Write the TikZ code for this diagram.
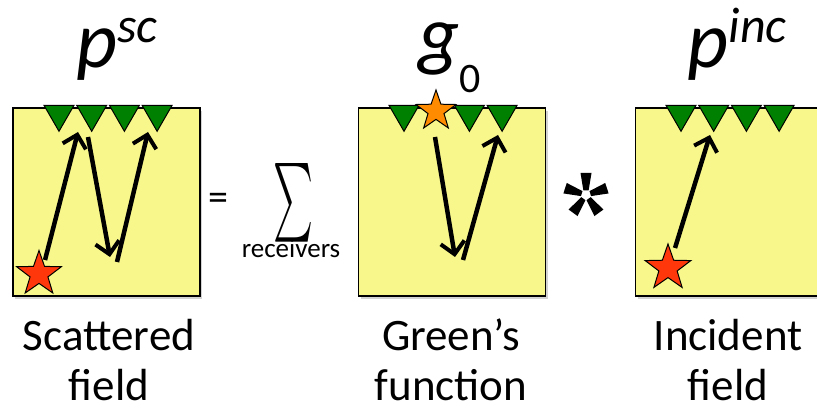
\documentclass[tikz,border=0pt]{standalone}
\usepackage{fontspec}
\setmainfont{Carlito}
\usepackage{amsmath}
\usepackage{graphicx}
\usetikzlibrary{shapes.geometric,arrows.meta,shadows}

\definecolor{panelyellow}{RGB}{247,247,140}
\definecolor{rxgreen}{RGB}{0,128,0}
\definecolor{srcred}{RGB}{255,55,10}
\definecolor{srcorange}{RGB}{255,140,0}

\tikzset{
    panel/.style={draw=black, line width=1.5pt, fill=panelyellow,
      minimum width=187pt, minimum height=188pt, inner sep=0pt,
      drop shadow={shadow xshift=2pt, shadow yshift=-3pt, opacity=0.35}},
    receiver/.style={regular polygon, regular polygon sides=3,
      shape border rotate=180, draw=black, line width=1pt, fill=rxgreen,
      minimum size=34.6pt, inner sep=0pt},
    source/.style={star, star points=5, star point ratio=2.5, draw=black,
      line width=1pt, minimum size=#1, inner sep=0pt},
    ray/.style={line width=4.5pt,
      -{Straight Barb[length=12pt,width=24pt,line width=4pt]}},
    caption/.style={font=\fontsize{45}{50}\selectfont, align=center, anchor=base,
      inner sep=0pt, text depth=0pt},
    mathlabel/.style={font=\fontsize{80}{80}\selectfont\itshape, inner sep=0pt, anchor=base}
}

\begin{document}
\begin{tikzpicture}[x=1pt,y=-1pt]
    \useasboundingbox (0,0) rectangle (817,411);

    % the three panels
    \node[panel] (scat) at (106.5,202) {};
    \node[panel] (green) at (452,202) {};
    \node[panel] (inc) at (729,202) {};

    % receivers on the surface
    \foreach \k in {0,...,3} {
        \node[receiver] (rs\k) at (13+46+32.7*\k,114) {};
        \node[receiver] (ri\k) at (635+46+32.7*\k,114) {};
    }
    \foreach \k in {0,2,3}
        \node[receiver] (rg\k) at (358+46+32.7*\k,114) {};

    % sources
    \node[source=47pt, fill=srcred] (srcscat) at (39,274) {};
    \node[source=48pt, fill=srcred] (srcinc) at (668,268) {};
    \node[source=42pt, fill=srcorange] (srcgreen) at (436,111) {};

    % ray end points
    \coordinate (s1a) at (45,260);  \coordinate (s1b) at (78,132);
    \coordinate (s2a) at (88,137);  \coordinate (s2b) at (110,257);
    \coordinate (s3a) at (117,262); \coordinate (s3b) at (148,132);
    \coordinate (g1a) at (435,137); \coordinate (g1b) at (455,257);
    \coordinate (g2a) at (463,260); \coordinate (g2b) at (498,135);
    \coordinate (i1a) at (675,248); \coordinate (i1b) at (710,135);

    \draw[ray] (s1a) -- (s1b);
    \draw[ray] (s2a) -- (s2b);
    \draw[ray] (s3a) -- (s3b);
    \draw[ray] (g1a) -- (g1b);
    \draw[ray] (g2a) -- (g2b);
    \draw[ray] (i1a) -- (i1b);

    % field labels
    \node[mathlabel] (lblscat) at (117,68)
      {p\raisebox{25pt}{\fontsize{50}{50}\selectfont sc}};
    \node[mathlabel] (lblgreen) at (450,62)
      {g\raisebox{-31pt}{\upshape\fontsize{42}{42}\selectfont 0}};
    \node[mathlabel] (lblinc) at (737,68)
      {p\raisebox{25pt}{\fontsize{50}{50}\selectfont inc}};

    % equation signs
    \node[font=\fontsize{40}{40}\selectfont, inner sep=0pt] (eq) at (218,201.5) {=};
    \node[inner sep=0pt] (sum) at (293,202.5) {\resizebox{40pt}{59pt}{$\sum$}};
    \node[font=\fontsize{27}{27}\selectfont, inner sep=0pt, anchor=base] (sumidx) at (291,258) {receivers};
    \coordinate (conv) at (586,195);
    \foreach \a in {18,90,162,234,306}
        \fill[shift={(conv)}, rotate=\a] (4.5,-2.6) -- (22,-5.5) -- (22,5.5) -- (4.5,2.6) -- cycle;

    % captions
    \node[caption] (capscat) at (109,401) {Scattered\\field};
    \node[caption] (capgreen) at (451,401) {Green’s\\function};
    \node[caption] (capinc) at (728,401) {Incident\\field};
\end{tikzpicture}
\end{document}
